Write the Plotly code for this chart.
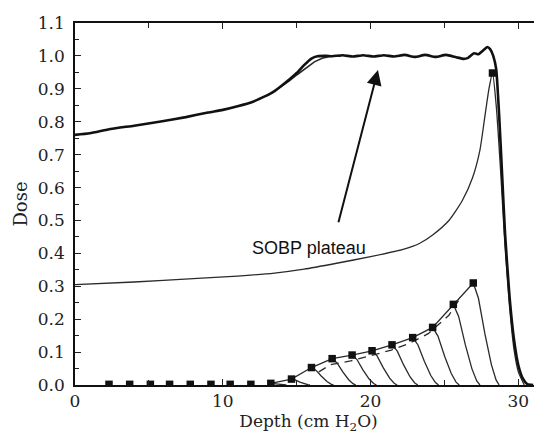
import plotly.graph_objects as go

# ── SOBP (thick) curve ───────────────────────────────────────────────
sobp_x = [0, 1, 2.4, 4, 5.7, 7.5, 9, 10, 11, 12, 12.5, 13, 13.5, 14, 14.5, 15, 15.5,
          16.0, 16.4, 17.0, 17.4, 18.1, 18.8, 19.5, 20.2, 20.9, 21.6, 22.3, 23.0,
          23.7, 24.4, 25.1, 25.8, 26.3, 26.6, 27.0, 27.3, 27.6, 27.9, 28.1, 28.3,
          28.5, 28.7, 28.9, 29.1, 29.4, 29.7, 30.0, 30.3, 30.6, 31.0]
sobp_y = [0.760, 0.765, 0.778, 0.788, 0.800, 0.814, 0.828, 0.836, 0.847, 0.860,
          0.870, 0.880, 0.893, 0.910, 0.928, 0.948, 0.972, 0.992, 0.999, 1.000,
          0.999, 1.002, 0.998, 1.002, 0.998, 1.002, 0.998, 1.003, 0.997, 1.003,
          0.997, 1.003, 0.996, 0.991, 0.994, 1.008, 1.005, 1.016, 1.027, 1.020,
          1.000, 0.960, 0.820, 0.640, 0.460, 0.270, 0.140, 0.060, 0.020, 0.003, 0.0]

# second (slightly later) shoulder of the SOBP
shoulder_x = [13.5, 14.0, 14.5, 15.0, 15.6, 16.2, 16.8, 17.4, 18.0]
shoulder_y = [0.893, 0.908, 0.924, 0.942, 0.962, 0.982, 0.994, 1.000, 1.000]

# ── pristine Bragg curve ─────────────────────────────────────────────
bragg_x = [0, 4, 8, 11, 13.5, 15.5, 17.7, 20, 22.2, 23.3, 24.2, 25.3, 26.2, 26.9,
           27.4, 27.7, 28.0, 28.25, 28.5, 28.8, 29.1, 29.4, 29.7, 30.0, 30.4]
bragg_y = [0.305, 0.313, 0.323, 0.331, 0.340, 0.352, 0.370, 0.390, 0.412, 0.430,
           0.456, 0.500, 0.560, 0.630, 0.714, 0.805, 0.897, 0.948, 0.850, 0.650,
           0.420, 0.240, 0.110, 0.040, 0.0]

# ── weighted individual peaks ────────────────────────────────────────
peak_x = [2.3, 3.7, 5.1, 6.4, 7.8, 9.2, 10.5, 11.9, 13.25, 14.65, 16.0, 17.4,
          18.75, 20.1, 21.45, 22.85, 24.2, 25.6, 26.95]
peak_y = [0.002, 0.002, 0.002, 0.002, 0.002, 0.002, 0.002, 0.002, 0.005, 0.018,
          0.053, 0.080, 0.091, 0.104, 0.122, 0.144, 0.175, 0.245, 0.310]
peak_end = [None, None, None, None, None, None, None, None, 14.3, 15.9, 17.5,
            19.0, 20.4, 21.8, 23.2, 24.6, 26.0, 27.4, 28.7]
# shared distal fall-off profile (fraction of depth to end, fraction of height)
fall_dx = [0.0, 0.2, 0.45, 0.7, 0.88, 1.0]
fall_fy = [1.0, 0.85, 0.5, 0.2, 0.05, 0.0]

dash_x = [16.5, 17.3, 18.65, 19.8, 21.4, 22.6, 23.9, 25.3, 26.0]
dash_y = [0.040, 0.062, 0.073, 0.086, 0.106, 0.126, 0.156, 0.212, 0.260]

LINE = "#2a2a2a"
fig = go.Figure()

fig.add_trace(go.Scatter(x=bragg_x, y=bragg_y, mode="lines",
                         line=dict(color=LINE, width=1.3, shape="spline",
                                   smoothing=0.6)))

# envelope through peak markers
env_x = peak_x[8:]
env_y = peak_y[8:]
fig.add_trace(go.Scatter(x=env_x, y=env_y, mode="lines",
                         line=dict(color=LINE, width=1.3)))
fig.add_trace(go.Scatter(x=dash_x, y=dash_y, mode="lines",
                         line=dict(color=LINE, width=1.3, dash="8px,6px")))

for px_, py_, pe in zip(peak_x, peak_y, peak_end):
    if pe is None:
        continue
    fx = [px_ + d * (pe - px_) for d in fall_dx]
    fy = [py_ * f for f in fall_fy]
    fig.add_trace(go.Scatter(x=fx, y=fy, mode="lines",
                             line=dict(color=LINE, width=1.3)))

fig.add_trace(go.Scatter(x=shoulder_x, y=shoulder_y, mode="lines",
                         line=dict(color=LINE, width=1.6)))
fig.add_trace(go.Scatter(x=sobp_x, y=sobp_y, mode="lines",
                         line=dict(color="#111111", width=2.6, shape="spline",
                                   smoothing=0.5)))

# markers
fig.add_trace(go.Scatter(x=peak_x + [bragg_x[17]], y=peak_y + [bragg_y[17]],
                         mode="markers",
                         marker=dict(symbol="square", size=7.5, color="#111111")))

fig.add_annotation(x=20.5, y=0.957, ax=17.8, ay=0.49, xref="x", yref="y",
                   axref="x", ayref="y", text="", showarrow=True,
                   arrowhead=2, arrowsize=1.5, arrowwidth=2, arrowcolor="#111111")
fig.add_annotation(x=15.8, y=0.415, text="SOBP plateau", showarrow=False,
                   font=dict(family="Liberation Sans, Arial", size=18, color="#111111"))

# page body has an 8px margin, so the figure is shifted by 8px
serif = "DejaVu Serif, serif"
fig.update_layout(
    width=534, height=431,
    margin=dict(l=67, r=0, t=15, b=54),
    plot_bgcolor="white", paper_bgcolor="white",
    showlegend=False,
    font=dict(family=serif, size=17, color="#222222"),
    xaxis=dict(range=[0, 31.6], tickvals=[0, 10, 20, 30], ticks="inside",
               ticklen=6, tickcolor="#222", showline=True, linecolor="#111",
               linewidth=1.5, mirror="ticks", showgrid=False, zeroline=False,
               automargin=False,
               minor=dict(dtick=5, ticks="inside", ticklen=5, tickcolor="#222"),
               title=dict(text="Depth (cm H<sub>2</sub>O)", standoff=1,
                          font=dict(size=17))),
    yaxis=dict(range=[0, 1.1], dtick=0.1, tickformat=".1f", ticks="inside",
               ticklen=6, tickcolor="#222", showline=True, linecolor="#111",
               linewidth=1.5, showgrid=False, zeroline=False, automargin=False,
               minor=dict(dtick=0.05, ticks="inside", ticklen=4, tickcolor="#222"),
               ticklabelstandoff=5,
               title=dict(text="Dose", standoff=6, font=dict(size=18))),
)

fig.write_html("out.html")
